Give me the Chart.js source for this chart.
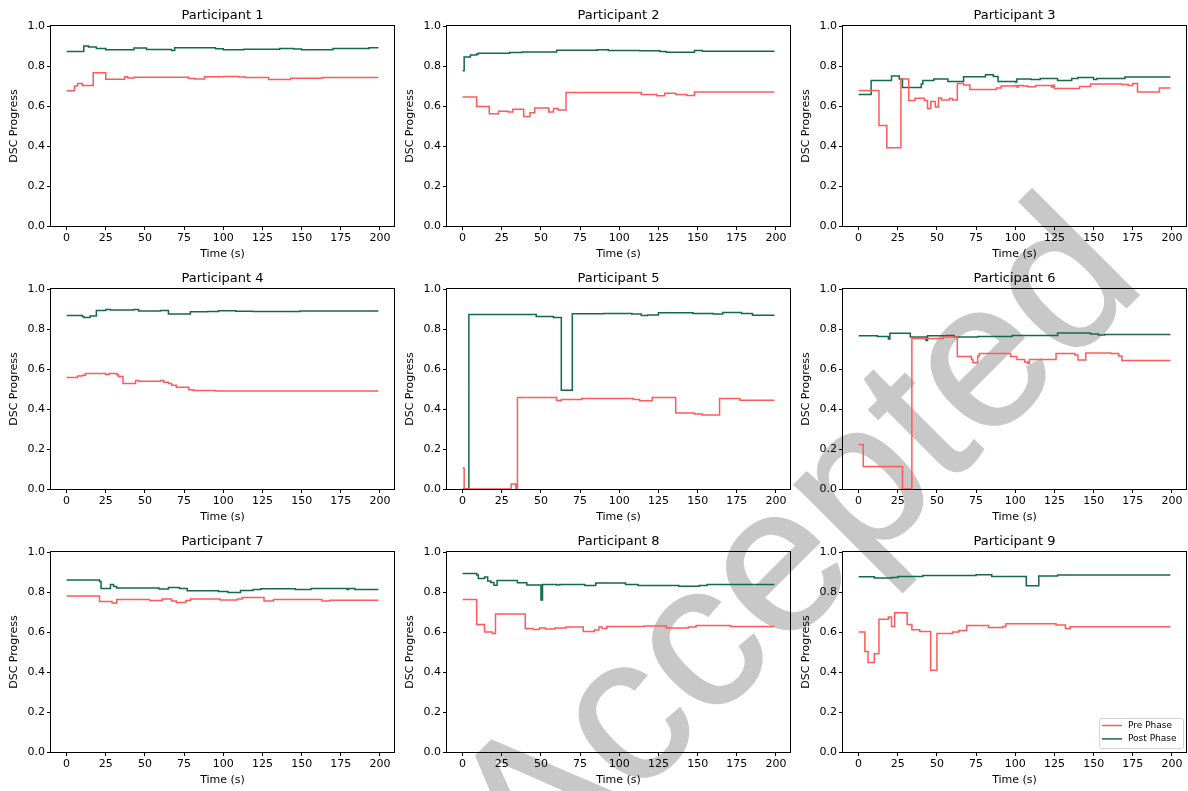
<!DOCTYPE html>
<html>
<head>
<meta charset="utf-8">
<script src="https://cdn.jsdelivr.net/npm/chart.js@4.4.0/dist/chart.umd.min.js"></script>
<style>
  body { margin: 0; background: #fff; width: 1188px; height: 791px; overflow: hidden; position: relative; }
  #stamp { position: absolute; left: 0; top: 0; }
  canvas.panel { position: absolute; }
</style>
</head>
<body>
<svg id="stamp" width="1188" height="791">
  <text x="842" y="592" text-anchor="middle" transform="rotate(-45 842 592)" font-family="Liberation Sans" font-size="208" fill="#c8c8c8" stroke="#c8c8c8" stroke-width="1.5">Accepted</text>
</svg>
<script>

const FONT = '"DejaVu Sans", sans-serif';
const preColor = '#ff5a5a';
const postColor = '#14694a';

const timeTicks = [0, 25, 50, 75, 100, 125, 150, 175, 200];
const dscTicks = [0, 0.2, 0.4, 0.6, 0.8, 1.0];

// [time (s), DSC] at each change point, value holds until the next point
const pre1 = [[0,0.676],[5,0.700],[7,0.713],[10,0.703],[17,0.766],[25,0.734],[37,0.746],[39,0.740],[43,0.744],[78,0.738],[82,0.735],[88,0.746],[100,0.748],[110,0.745],[114,0.742],[129,0.733],[143,0.739],[163,0.742],[199,0.742]];
const post1 = [[0,0.873],[11,0.900],[14,0.895],[19,0.888],[25,0.881],[43,0.890],[51,0.883],[67,0.877],[69,0.891],[95,0.886],[100,0.881],[113,0.884],[136,0.888],[145,0.885],[150,0.881],[170,0.888],[193,0.891],[199,0.891]];

const pre2 = [[0,0.645],[9,0.597],[17,0.561],[23,0.574],[29,0.570],[32,0.584],[39,0.547],[43,0.566],[46,0.590],[55,0.570],[58,0.588],[61,0.580],[66,0.668],[114,0.658],[124,0.651],[129,0.664],[136,0.658],[143,0.652],[148,0.670],[199,0.670]];
const post2 = [[0,0.776],[1,0.845],[5,0.855],[9,0.860],[10,0.864],[30,0.867],[38,0.870],[60,0.879],[86,0.881],[93,0.878],[113,0.876],[126,0.872],[130,0.869],[148,0.877],[153,0.874],[199,0.874]];

const pre3 = [[0,0.678],[13,0.502],[18,0.391],[27,0.735],[32,0.627],[36,0.639],[42,0.628],[44,0.588],[46,0.622],[49,0.595],[51,0.640],[53,0.630],[58,0.638],[60,0.630],[63,0.713],[67,0.705],[71,0.683],[88,0.690],[91,0.700],[100,0.703],[101,0.695],[102,0.703],[105,0.700],[108,0.696],[113,0.702],[123,0.695],[124,0.704],[125,0.688],[141,0.698],[148,0.710],[168,0.707],[172,0.702],[175,0.712],[178,0.670],[192,0.690],[199,0.690]];
const post3 = [[0,0.657],[8,0.727],[21,0.750],[26,0.735],[28,0.692],[40,0.710],[41,0.728],[48,0.735],[57,0.722],[67,0.746],[81,0.756],[86,0.748],[89,0.722],[100,0.720],[101,0.735],[110,0.732],[116,0.738],[127,0.728],[136,0.738],[140,0.742],[150,0.732],[152,0.738],[170,0.745],[199,0.745]];

const pre4 = [[0,0.558],[7,0.565],[10,0.569],[12,0.577],[25,0.572],[27,0.577],[32,0.572],[33,0.562],[36,0.528],[44,0.543],[46,0.539],[60,0.542],[62,0.534],[65,0.528],[67,0.519],[70,0.509],[78,0.496],[81,0.492],[95,0.490],[199,0.490]];
const post4 = [[0,0.868],[10,0.862],[11,0.857],[15,0.865],[19,0.893],[25,0.898],[28,0.895],[43,0.898],[46,0.890],[60,0.893],[65,0.875],[79,0.886],[90,0.888],[97,0.891],[108,0.889],[119,0.887],[149,0.890],[199,0.890]];

const pre5 = [[0,0.105],[1,0],[31,0.025],[34,0],[35,0.457],[60,0.443],[63,0.447],[76,0.453],[109,0.447],[113,0.441],[121,0.458],[136,0.380],[148,0.375],[153,0.370],[164,0.453],[177,0.444],[199,0.444]];
const post5 = [[0,0],[4,0.872],[47,0.862],[58,0.858],[63,0.494],[70,0.876],[90,0.878],[108,0.875],[114,0.868],[118,0.870],[125,0.881],[147,0.878],[160,0.875],[166,0.882],[178,0.877],[185,0.869],[199,0.869]];

const pre6 = [[0,0.222],[3,0.112],[28,0],[34,0.752],[54,0.760],[63,0.662],[72,0.648],[73,0.631],[76,0.665],[77,0.678],[97,0.662],[101,0.648],[106,0.635],[108,0.628],[109,0.648],[126,0.678],[138,0.670],[140,0.645],[145,0.680],[161,0.677],[166,0.665],[168,0.643],[199,0.643]];
const post6 = [[0,0.766],[12,0.763],[19,0.750],[20,0.779],[33,0.760],[43,0.743],[44,0.766],[56,0.768],[61,0.760],[76,0.762],[98,0.768],[127,0.780],[148,0.775],[153,0.770],[157,0.772],[199,0.772]];

const pre7 = [[0,0.780],[21,0.752],[29,0.745],[32,0.762],[53,0.757],[61,0.765],[67,0.755],[70,0.748],[76,0.758],[79,0.765],[98,0.760],[109,0.765],[112,0.772],[126,0.755],[132,0.762],[163,0.755],[168,0.759],[199,0.759]];
const post7 = [[0,0.860],[21,0.852],[22,0.817],[28,0.838],[30,0.828],[32,0.820],[59,0.815],[65,0.822],[72,0.818],[77,0.806],[97,0.803],[103,0.798],[111,0.808],[119,0.812],[124,0.816],[146,0.812],[156,0.817],[179,0.812],[180,0.817],[184,0.813],[199,0.813]];

const pre8 = [[0,0.762],[9,0.637],[14,0.600],[19,0.592],[21,0.690],[40,0.617],[45,0.612],[49,0.620],[53,0.615],[59,0.620],[66,0.625],[77,0.603],[84,0.610],[87,0.625],[89,0.618],[92,0.627],[116,0.630],[130,0.620],[144,0.625],[149,0.633],[171,0.628],[199,0.628]];
const post8 = [[0,0.892],[9,0.885],[10,0.867],[14,0.875],[16,0.855],[18,0.847],[20,0.834],[22,0.857],[35,0.846],[41,0.835],[50,0.760],[51,0.838],[60,0.835],[62,0.838],[78,0.832],[85,0.845],[104,0.838],[112,0.833],[138,0.829],[151,0.832],[156,0.837],[199,0.837]];

const pre9 = [[0,0.600],[4,0.503],[6,0.448],[10,0.491],[13,0.664],[19,0.675],[21,0.628],[23,0.696],[31,0.637],[34,0.611],[39,0.603],[46,0.409],[50,0.593],[60,0.600],[64,0.607],[69,0.633],[83,0.622],[92,0.628],[94,0.641],[126,0.635],[132,0.618],[135,0.626],[199,0.626]];
const post9 = [[0,0.876],[10,0.870],[21,0.873],[25,0.878],[41,0.882],[75,0.886],[85,0.878],[107,0.831],[115,0.880],[127,0.885],[199,0.885]];

const preData = [pre1, pre2, pre3, pre4, pre5, pre6, pre7, pre8, pre9];
const postData = [post1, post2, post3, post4, post5, post6, post7, post8, post9];

function toXY(arr) {
	return arr.map(p => ({x: p[0], y: p[1]}));
}

// closed box round the axes like matplotlib spines
const frame = {
	id: 'frame',
	afterDraw(chart) {
		const {ctx, chartArea: a} = chart;
		ctx.save();
		ctx.strokeStyle = '#000';
		ctx.lineWidth = 1;
		ctx.strokeRect(Math.round(a.left) - 0.5, Math.round(a.top) - 0.5, Math.round(a.right) - Math.round(a.left) + 1, Math.round(a.bottom) - Math.round(a.top) + 1);
		ctx.restore();
	}
};

const legendBox = {
	id: 'legendBox',
	afterDraw(chart) {
		const {ctx, chartArea: a} = chart;
		const w = 84, h = 30;
		const x = Math.round(a.right) - 3 - w, y = Math.round(a.bottom) - 4 - h;
		ctx.save();
		ctx.fillStyle = 'rgba(255,255,255,0.8)';
		ctx.strokeStyle = '#d4d4d4';
		ctx.lineWidth = 1;
		ctx.beginPath();
		ctx.roundRect(x + 0.5, y + 0.5, w, h, 2);
		ctx.fill();
		ctx.stroke();
		ctx.font = '9px ' + FONT;
		ctx.textBaseline = 'middle';
		chart.data.datasets.forEach((ds, k) => {
			const cy = y + 7.5 + k * 13.4;
			ctx.strokeStyle = ds.borderColor;
			ctx.lineWidth = 1.5;
			ctx.beginPath();
			ctx.moveTo(x + 3, cy);
			ctx.lineTo(x + 23, cy);
			ctx.stroke();
			ctx.fillStyle = '#000';
			ctx.fillText(ds.label, x + 29, cy);
		});
		ctx.restore();
	}
};

function makePanel(i) {
	const canvas = document.createElement('canvas');
	canvas.className = 'panel';
	canvas.width = 396;
	canvas.height = 263;
	canvas.style.left = (i % 3) * 396 + 'px';
	canvas.style.top = Math.floor(i / 3) * 263 + 'px';
	document.body.appendChild(canvas);

	const tickFont = {family: FONT, size: 11};
	return new Chart(canvas, {
		type: 'line',
		data: {
			datasets: [{
				label: 'Pre Phase',
				data: toXY(preData[i]),
				borderColor: preColor,
				backgroundColor: preColor,
				borderWidth: 1.5,
				stepped: true,
				pointRadius: 0,
				fill: false
			},
			{
				label: 'Post Phase',
				data: toXY(postData[i]),
				borderColor: postColor,
				backgroundColor: postColor,
				borderWidth: 1.5,
				stepped: true,
				pointRadius: 0,
				fill: false
			}]
		},
		options: {
			responsive: false,
			animation: false,
			devicePixelRatio: 1,
			layout: {padding: {left: 0, right: 2, top: 0, bottom: 0}},
			plugins: {
				legend: {display: false},
				tooltip: {enabled: false},
				title: {
					display: true,
					text: 'Participant ' + (i + 1),
					fullSize: false,
					color: '#000',
					font: {family: FONT, size: 13, weight: 'normal'},
					padding: {top: 8, bottom: 2.4}
				}
			},
			scales: {
				x: {
					type: 'linear',
					min: -9.95,
					max: 208.95,
					afterBuildTicks: s => { s.ticks = timeTicks.map(v => ({value: v})); },
					afterFit: s => { s.height = 37; },
					grid: {drawOnChartArea: false, drawTicks: true, tickLength: 4, color: '#000'},
					border: {display: false},
					ticks: {color: '#000', font: tickFont, padding: 1.5, maxRotation: 0, autoSkip: false, callback: v => v},
					title: {display: true, text: 'Time (s)', color: '#000', font: tickFont, padding: {top: 0, bottom: 2}}
				},
				y: {
					min: 0,
					max: 1,
					afterBuildTicks: s => { s.ticks = dscTicks.map(v => ({value: v})); },
					afterFit: s => { s.width = 51; },
					grid: {drawOnChartArea: false, drawTicks: true, tickLength: 4, color: '#000'},
					border: {display: false},
					ticks: {color: '#000', font: tickFont, padding: 2, callback: v => v.toFixed(1)},
					title: {display: true, text: 'DSC Progress', color: '#000', font: tickFont, padding: {top: 8, bottom: 0}}
				}
			}
		},
		plugins: i === 8 ? [frame, legendBox] : [frame]
	});
}

for (let i = 0; i < 9; i++) {
	makePanel(i);
}
</script>
</body>
</html>
